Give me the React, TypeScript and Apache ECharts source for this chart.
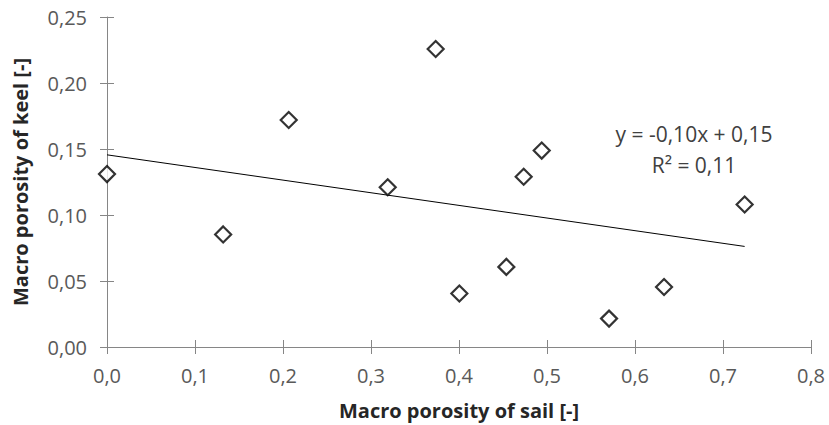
import React, { useEffect, useRef } from "react";
import * as echarts from "echarts";

const sailPorosity = [0.0, 0.132, 0.2065, 0.319, 0.3735, 0.4004, 0.4538, 0.4735, 0.494, 0.5705, 0.633, 0.7246];
const keelPorosity = [0.131, 0.0853, 0.172, 0.121, 0.2258, 0.0405, 0.0607, 0.129, 0.1488, 0.0215, 0.0455, 0.108];
const xTicks = { min: 0, max: 0.8, interval: 0.1 };
const yTicks = { min: 0, max: 0.25, interval: 0.05 };
const xTitle = "Macro porosity of sail [-]";
const yTitle = "Macro porosity of keel [-]";

function regression(xs: number[], ys: number[]) {
  const n = xs.length;
  const mx = xs.reduce((a, b) => a + b, 0) / n;
  const my = ys.reduce((a, b) => a + b, 0) / n;
  let sxy = 0, sxx = 0, syy = 0;
  for (let i = 0; i < n; i++) {
    sxy += (xs[i] - mx) * (ys[i] - my);
    sxx += (xs[i] - mx) ** 2;
    syy += (ys[i] - my) ** 2;
  }
  const slope = sxy / sxx;
  const intercept = my - slope * mx;
  const r2 = (sxy * sxy) / (sxx * syy);
  return { slope, intercept, r2 };
}

const fmt = (v: number, d: number) => v.toFixed(d).replace(".", ",");

export default function App() {
  const ref = useRef<HTMLDivElement>(null);
  useEffect(() => {
    if (!ref.current) return;
    const chart = echarts.init(ref.current, null, { renderer: "svg" });
    const { slope, intercept, r2 } = regression(sailPorosity, keelPorosity);
    const xMin = Math.min(...sailPorosity);
    const xMax = Math.max(...sailPorosity);
    const font = "'Open Sans', sans-serif";
    const axisGray = "#868686";
    const gridLeft = 107, gridRight = 18, gridTop = 17, gridBottom = 78;
    const gridW = 829 - gridLeft - gridRight;
    const gridH = 425 - gridTop - gridBottom;
    const eq1 = `y = ${fmt(slope, 2)}x + ${fmt(intercept, 2)}`;
    const eq2 = `R² = ${fmt(r2, 2)}`;
    chart.setOption({
      animation: false,
      backgroundColor: "#ffffff",
      grid: { left: gridLeft, right: gridRight, top: gridTop, bottom: gridBottom, containLabel: false, outerBoundsMode: "none" },
      xAxis: [
        {
          type: "value",
          ...xTicks,
          name: xTitle,
          nameLocation: "middle",
          nameGap: 53,
          nameTextStyle: { fontFamily: font, fontSize: 20, fontWeight: "bold", color: "#262626" },
          axisLine: { show: true, onZero: false, lineStyle: { color: axisGray, width: 1 } },
          axisTick: { show: true, length: 7, lineStyle: { color: axisGray } },
          axisLabel: { margin: 18, fontFamily: font, fontSize: 20, color: "#595959", formatter: (v: number) => fmt(v, 1) },
          splitLine: { show: false },
        },
        {
          type: "value",
          ...xTicks,
          position: "top",
          offset: -gridH,
          axisLine: { show: false, onZero: false },
          axisTick: { show: true, length: 7, lineStyle: { color: axisGray } },
          axisLabel: { show: false },
          splitLine: { show: false },
        },
      ],
      yAxis: [
        {
          type: "value",
          ...yTicks,
          name: yTitle,
          nameLocation: "middle",
          nameGap: 77,
          nameTextStyle: { fontFamily: font, fontSize: 20, fontWeight: "bold", color: "#262626" },
          axisLine: { show: true, onZero: false, lineStyle: { color: axisGray, width: 1 } },
          axisTick: { show: true, length: 7, lineStyle: { color: axisGray } },
          axisLabel: { margin: 20, fontFamily: font, fontSize: 20, color: "#595959", formatter: (v: number) => fmt(v, 2) },
          splitLine: { show: false },
        },
        {
          type: "value",
          ...yTicks,
          position: "right",
          offset: -gridW,
          axisLine: { show: false, onZero: false },
          axisTick: { show: true, length: 7, lineStyle: { color: axisGray } },
          axisLabel: { show: false },
          splitLine: { show: false },
        },
      ],
      series: [
        {
          type: "line",
          xAxisIndex: 0,
          yAxisIndex: 0,
          data: [
            [xMin, intercept + slope * xMin],
            [xMax, intercept + slope * xMax],
          ],
          showSymbol: false,
          symbol: "none",
          lineStyle: { color: "#000000", width: 1 },
          silent: true,
          z: 1,
        },
        {
          type: "scatter",
          xAxisIndex: 0,
          yAxisIndex: 0,
          data: sailPorosity.map((x, i) => [x, keelPorosity[i]]),
          symbol: "diamond",
          symbolSize: 16,
          itemStyle: { color: "#ffffff", borderColor: "#000000", borderWidth: 2.2 },
          z: 3,
        },
      ],
      graphic: [
        {
          type: "text",
          x: 694,
          y: 134,
          style: { text: eq1, font: `21px ${font}`, fill: "#404040", align: "center", verticalAlign: "middle" },
        },
        {
          type: "text",
          x: 694,
          y: 165,
          style: { text: eq2, font: `21px ${font}`, fill: "#404040", align: "center", verticalAlign: "middle" },
        },
      ],
    });
    return () => chart.dispose();
  }, []);
  return (
    <div
      ref={ref}
      style={{ position: "fixed", left: 0, top: 0, width: 829, height: 425, background: "#ffffff" }}
    />
  );
}
